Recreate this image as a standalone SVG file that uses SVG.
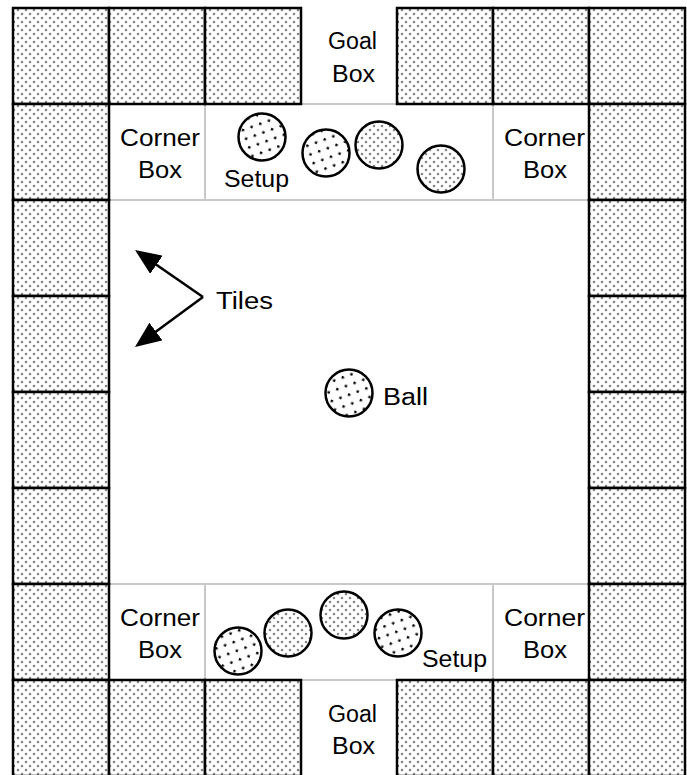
<svg xmlns="http://www.w3.org/2000/svg" width="687" height="775" viewBox="0 0 687 775">
<defs>
<pattern id="gdots" patternUnits="userSpaceOnUse" width="8" height="8">
<rect width="8" height="8" fill="#fff"/>
<circle cx="2" cy="2" r="1.5" fill="#d0d0d0"/>
<circle cx="6" cy="6" r="1.5" fill="#d0d0d0"/>
<circle cx="2" cy="2" r="0.8" fill="#222"/>
<circle cx="6" cy="6" r="0.8" fill="#222"/>
</pattern>
<pattern id="bdots" patternUnits="userSpaceOnUse" width="13" height="13" patternTransform="rotate(25)">
<rect width="13" height="13" fill="#fff"/>
<rect x="1" y="1" width="2.4" height="2.4" fill="#000"/>
<rect x="7.5" y="7.5" width="2.4" height="2.4" fill="#000"/>
</pattern>
<marker id="ah" viewBox="0 0 26 22" refX="23" refY="11" markerWidth="26" markerHeight="22" markerUnits="userSpaceOnUse" orient="auto">
<path d="M0,0 L26,11 L0,22 z" fill="#000"/>
</marker>
</defs>
<style>
.tile{fill:url(#gdots);stroke:#000;stroke-width:2.5}
.cell{fill:#fff;stroke:#c8c8c8;stroke-width:2}
.ballb{fill:url(#bdots);stroke:#000;stroke-width:2.5}
.ballg{fill:url(#gdots);stroke:#000;stroke-width:2.5}
.t{font-family:"Liberation Sans",Arial,sans-serif;font-size:23px;fill:#000}
.arrow{stroke:#000;stroke-width:2.5;fill:none;marker-end:url(#ah)}
</style>
<rect width="687" height="775" fill="#fff"/>
<g id="corner-box-top-left"><rect class="cell" x="109" y="104" width="96" height="96"/>
<text class="t" x="120" y="146" textLength="80" lengthAdjust="spacingAndGlyphs">Corner</text>
<text class="t" x="138" y="178" textLength="44" lengthAdjust="spacingAndGlyphs">Box</text></g>
<g id="setup-top"><rect class="cell" x="205" y="104" width="288" height="96"/>
<text class="t" x="224" y="187" textLength="65" lengthAdjust="spacingAndGlyphs">Setup</text></g>
<g id="corner-box-top-right"><rect class="cell" x="493" y="104" width="96" height="96"/>
<text class="t" x="504" y="146" textLength="81" lengthAdjust="spacingAndGlyphs">Corner</text>
<text class="t" x="523" y="178" textLength="44" lengthAdjust="spacingAndGlyphs">Box</text></g>
<g id="corner-box-bottom-left"><rect class="cell" x="109" y="584" width="96" height="96"/>
<text class="t" x="120" y="626" textLength="80" lengthAdjust="spacingAndGlyphs">Corner</text>
<text class="t" x="138" y="658" textLength="44" lengthAdjust="spacingAndGlyphs">Box</text></g>
<g id="setup-bottom"><rect class="cell" x="205" y="584" width="288" height="96"/>
<text class="t" x="422" y="667" textLength="65" lengthAdjust="spacingAndGlyphs">Setup</text></g>
<g id="corner-box-bottom-right"><rect class="cell" x="493" y="584" width="96" height="96"/>
<text class="t" x="504" y="626" textLength="81" lengthAdjust="spacingAndGlyphs">Corner</text>
<text class="t" x="523" y="658" textLength="44" lengthAdjust="spacingAndGlyphs">Box</text></g>
<g id="goal-box-top">
<text class="t" x="328" y="49" textLength="49" lengthAdjust="spacingAndGlyphs">Goal</text>
<text class="t" x="332" y="82" textLength="43" lengthAdjust="spacingAndGlyphs">Box</text></g>
<g id="goal-box-bottom">
<text class="t" x="328" y="722" textLength="49" lengthAdjust="spacingAndGlyphs">Goal</text>
<text class="t" x="332" y="754" textLength="43" lengthAdjust="spacingAndGlyphs">Box</text></g>
<g id="tiles">
<g id="tile-r0c0"><rect class="tile" x="13" y="8" width="96" height="96"/></g>
<g id="tile-r0c1"><rect class="tile" x="109" y="8" width="96" height="96"/></g>
<g id="tile-r0c2"><rect class="tile" x="205" y="8" width="96" height="96"/></g>
<g id="tile-r0c4"><rect class="tile" x="397" y="8" width="96" height="96"/></g>
<g id="tile-r0c5"><rect class="tile" x="493" y="8" width="96" height="96"/></g>
<g id="tile-r0c6"><rect class="tile" x="589" y="8" width="96" height="96"/></g>
<g id="tile-r1c0"><rect class="tile" x="13" y="104" width="96" height="96"/></g>
<g id="tile-r2c0"><rect class="tile" x="13" y="200" width="96" height="96"/></g>
<g id="tile-r3c0"><rect class="tile" x="13" y="296" width="96" height="96"/></g>
<g id="tile-r4c0"><rect class="tile" x="13" y="392" width="96" height="96"/></g>
<g id="tile-r5c0"><rect class="tile" x="13" y="488" width="96" height="96"/></g>
<g id="tile-r6c0"><rect class="tile" x="13" y="584" width="96" height="96"/></g>
<g id="tile-r1c6"><rect class="tile" x="589" y="104" width="96" height="96"/></g>
<g id="tile-r2c6"><rect class="tile" x="589" y="200" width="96" height="96"/></g>
<g id="tile-r3c6"><rect class="tile" x="589" y="296" width="96" height="96"/></g>
<g id="tile-r4c6"><rect class="tile" x="589" y="392" width="96" height="96"/></g>
<g id="tile-r5c6"><rect class="tile" x="589" y="488" width="96" height="96"/></g>
<g id="tile-r6c6"><rect class="tile" x="589" y="584" width="96" height="96"/></g>
<g id="tile-r7c0"><rect class="tile" x="13" y="680" width="96" height="96"/></g>
<g id="tile-r7c1"><rect class="tile" x="109" y="680" width="96" height="96"/></g>
<g id="tile-r7c2"><rect class="tile" x="205" y="680" width="96" height="96"/></g>
<g id="tile-r7c4"><rect class="tile" x="397" y="680" width="96" height="96"/></g>
<g id="tile-r7c5"><rect class="tile" x="493" y="680" width="96" height="96"/></g>
<g id="tile-r7c6"><rect class="tile" x="589" y="680" width="96" height="96"/></g>
</g>
<g id="setup-top-balls">
<circle class="ballb" cx="262" cy="137" r="23.5"/>
<circle class="ballb" cx="326" cy="153" r="23.5"/>
<circle class="ballg" cx="379" cy="145" r="23.5"/>
<circle class="ballg" cx="441" cy="169" r="23.5"/>
</g>
<g id="setup-bottom-balls">
<circle class="ballb" cx="238" cy="651" r="23.5"/>
<circle class="ballg" cx="288" cy="633" r="23.5"/>
<circle class="ballg" cx="344" cy="615" r="23.5"/>
<circle class="ballb" cx="398" cy="633" r="23.5"/>
</g>
<g id="ball">
<circle class="ballb" cx="349" cy="393" r="23.5"/>
<text class="t" x="383" y="405" textLength="45" lengthAdjust="spacingAndGlyphs">Ball</text>
</g>
<g id="tiles-label">
<text class="t" x="216" y="309" textLength="57" lengthAdjust="spacingAndGlyphs">Tiles</text>
</g>
<g id="connectors">
<path class="arrow" d="M203,297 L137.5,251.7"/>
<path class="arrow" d="M203,297 L137.4,345.2"/>
</g>
</svg>
